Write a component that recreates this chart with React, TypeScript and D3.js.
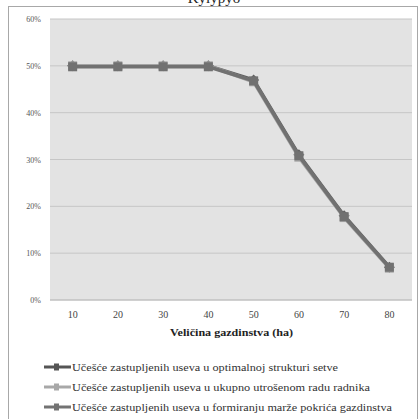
import React from "react";
import * as d3 from "d3";

const categories = ["10", "20", "30", "40", "50", "60", "70", "80"];
const seriesOptimal = [0.5, 0.5, 0.5, 0.5, 0.47, 0.31, 0.18, 0.07];
const seriesLabor = [0.5, 0.5, 0.5, 0.5, 0.466, 0.305, 0.176, 0.068];
const seriesMargin = [0.498, 0.498, 0.498, 0.498, 0.468, 0.308, 0.178, 0.07];
const yTicks = [0, 0.1, 0.2, 0.3, 0.4, 0.5, 0.6];
const seriesNames = [
  "Učešće zastupljenih useva u optimalnoj strukturi setve",
  "Učešće zastupljenih useva u ukupno utrošenom radu radnika",
  "Učešće zastupljenih useva u formiranju marže pokrića gazdinstva",
];
const xTitle = "Veličina gazdinstva (ha)";
const topText = "Kylypyo";

const W = 418;
const H = 419;
const plot = { left: 50, right: 412, top: 19, bottom: 300 };

const seriesList = [
  { name: seriesNames[0], values: seriesOptimal, color: "#616161", legendColor: "#555555", marker: "diamond", legendEnd: 338 },
  { name: seriesNames[1], values: seriesLabor, color: "#a4a4a4", legendColor: "#a8a8a8", marker: "square", legendEnd: 370 },
  { name: seriesNames[2], values: seriesMargin, color: "#717171", legendColor: "#737373", marker: "square", legendEnd: 392 },
];

function Marker({ x, y, type, color }: { x: number; y: number; type: string; color: string }) {
  if (type === "diamond") {
    const s = 5.5;
    return <path d={`M${x},${y - s}L${x + s},${y}L${x},${y + s}L${x - s},${y}Z`} fill={color} />;
  }
  const s = 4.5;
  return <rect x={x - s} y={y - s} width={2 * s} height={2 * s} fill={color} />;
}

const font = "Liberation Serif, Times New Roman, DejaVu Serif, serif";

export default function App() {
  const x = d3.scaleBand<string>().domain(categories).range([plot.left, plot.right]).padding(0);
  const y = d3.scaleLinear().domain([0, 0.6]).range([plot.bottom, plot.top]);
  const cx = (c: string) => (x(c) as number) + x.bandwidth() / 2;
  const line = d3
    .line<number>()
    .x((_, i) => cx(categories[i]))
    .y((d) => y(d));
  const fmt = d3.format(".0%");
  const legendY = [367, 387, 407];

  return (
    <svg width={W} height={H} style={{ position: "absolute", left: 0, top: 0 }} fontFamily={font}>
      <rect x={0} y={0} width={W} height={H} fill="#ffffff" />
      <text x={214} y={3} textAnchor="middle" fontSize={15} fill="#222">
        {topText}
      </text>
      <rect x={8.5} y={6.5} width={409} height={430} fill="#ffffff" stroke="#a8a8a8" strokeWidth={1} />
      <rect
        x={plot.left}
        y={plot.top}
        width={plot.right - plot.left}
        height={plot.bottom - plot.top}
        fill="#e3e3e3"
      />
      {yTicks.map((t) => (
        <g key={t}>
          <line x1={plot.left} x2={plot.right} y1={y(t)} y2={y(t)} stroke="#c6c6c6" strokeWidth={1} />
          <text x={41} y={y(t) + 3} textAnchor="end" fontSize={8} fill="#555">
            {fmt(t)}
          </text>
        </g>
      ))}
      <line x1={plot.left} x2={plot.right} y1={plot.bottom} y2={plot.bottom} stroke="#bdbdbd" />
      {categories.map((c) => (
        <text key={c} x={cx(c)} y={318} textAnchor="middle" fontSize={10} fill="#444">
          {c}
        </text>
      ))}
      <text
        x={231.5}
        y={336}
        textAnchor="middle"
        fontSize={10.5}
        fontWeight="bold"
        fill="#222"
        textLength={123}
        lengthAdjust="spacingAndGlyphs"
      >
        {xTitle}
      </text>
      {seriesList.map((s) => (
        <g key={s.name}>
          <path d={line(s.values) || ""} fill="none" stroke={s.color} strokeWidth={3.5} strokeLinejoin="round" />
          {s.values.map((v, i) => (
            <Marker key={i} x={cx(categories[i])} y={y(v)} type={s.marker} color={s.color} />
          ))}
        </g>
      ))}
      {seriesList.map((s, i) => (
        <g key={"lg" + i}>
          <line x1={44} x2={71} y1={legendY[i]} y2={legendY[i]} stroke={s.legendColor} strokeWidth={3} />
          <rect x={54} y={legendY[i] - 3.5} width={5} height={7} fill={s.legendColor} />
          <text
            x={72}
            y={legendY[i] + 3.5}
            fontSize={10}
            fill="#333"
            textLength={s.legendEnd - 72}
            lengthAdjust="spacingAndGlyphs"
          >
            {s.name}
          </text>
        </g>
      ))}
    </svg>
  );
}
